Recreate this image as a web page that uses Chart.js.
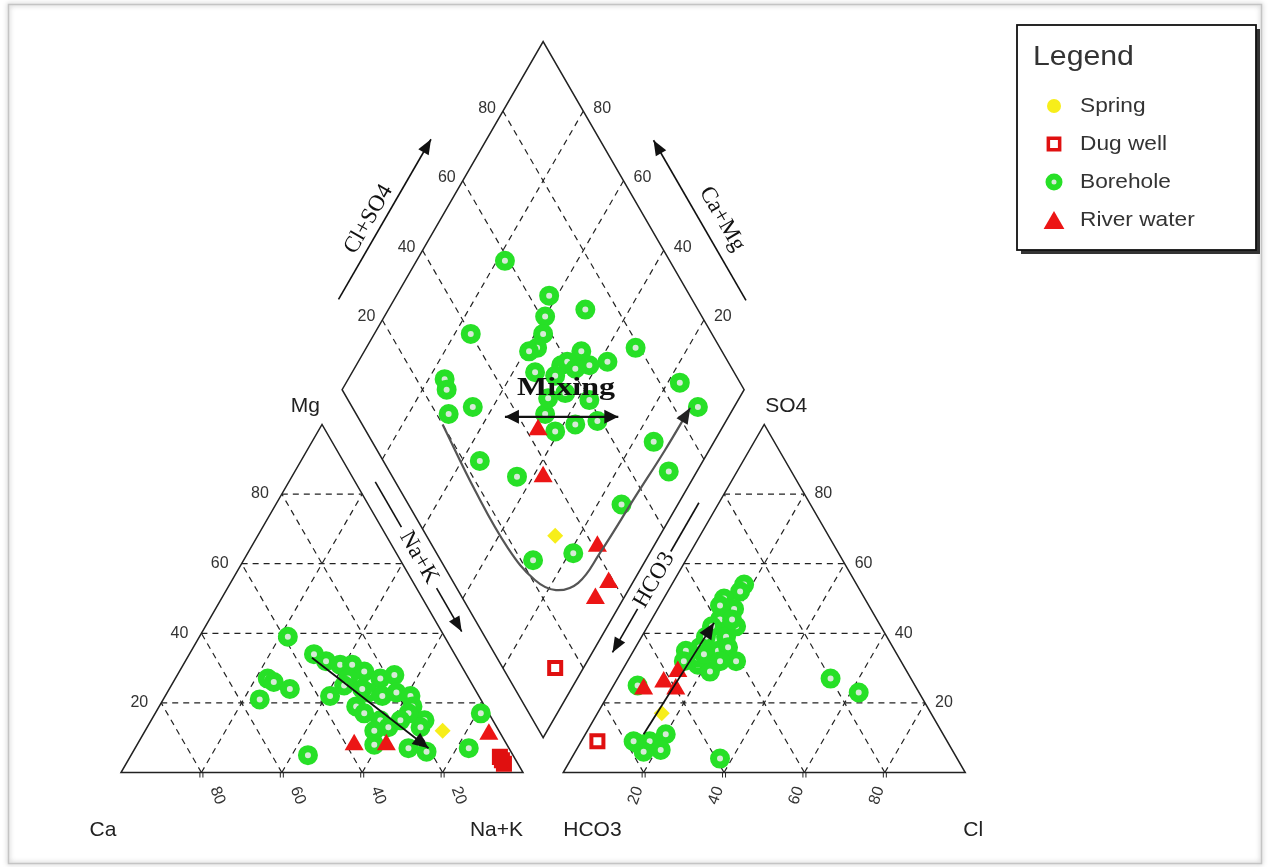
<!DOCTYPE html>
<html>
<head>
<meta charset="utf-8">
<title>Piper diagram</title>
<script src="https://cdn.jsdelivr.net/npm/chart.js@4.4.1/dist/chart.umd.min.js"></script>
<style>
  html, body { margin: 0; padding: 0; background: #fff; }
  #wrap { width: 1276px; height: 867px; }
</style>
</head>
<body>
<div id="wrap"><canvas id="piperChart" width="1276" height="867"></canvas></div>
<script>
// cation triangle values: [Mg %, Na+K %]  (Ca is the rest)
const boreholeCations = [
  [39, 22], [27, 23], [26, 25], [21, 24], [24, 30], [5, 44], [22, 41], [32, 35], [31, 39], [31, 42],
  [29, 46], [27, 51], [28, 54], [27, 43], [19, 49], [23, 50], [22, 54], [23, 57], [22, 61], [19, 63],
  [15, 68], [13, 68], [15, 57], [13, 60], [12, 57], [17, 63], [15, 62], [34, 31], [25, 43], [24, 48],
  [17, 52], [8, 59], [7, 68], [6, 73], [7, 83], [17, 81]
];
const riverCations = [[8, 54], [8, 62], [11, 86]];
const dugWellCations = [[4.5, 92], [3.5, 93], [2.5, 94]];
const springCations = [[12, 74]];

// anion triangle values: [SO4 %, Cl %]  (HCO3 is the rest)
const boreholeAnions = [
  [25, 6], [8.5, 14], [9, 17], [11, 20], [6.5, 21], [6, 17], [9, 13], [4, 37], [27, 53], [23, 62],
  [54, 18], [52, 18], [50, 15], [47, 19], [44, 17], [42, 16], [39, 16], [39, 21], [42, 22], [36, 16],
  [35, 21], [36, 23], [35, 13], [32, 14], [31, 18], [29, 22], [32, 27], [33, 17], [48, 15], [44, 20],
  [34, 18], [32, 23]
];
const riverAnions = [[24, 8], [26, 12], [24, 16], [29, 14]];
const dugWellAnions = [[9, 4]];
const springAnions = [[17, 16]];

// diamond values: [Ca+Mg %, Cl+SO4 %]
const boreholeDiamond = [
  [78, 59], [62, 65], [60, 61], [51, 72], [76, 40], [58, 58], [57.5, 54.5], [59, 52], [46, 65], [38, 70],
  [33, 79], [49, 58], [48, 60], [42, 65], [54.5, 50.5], [76, 27], [74, 26], [17, 85], [65, 30], [70, 23],
  [46, 47], [37, 53], [32, 59], [41, 47], [9, 86], [15, 70], [55.5, 24], [44, 31], [7, 69.5], [14, 53],
  [19, 34], [28, 23], [44, 55], [37, 60], [47.5, 50], [45, 61], [49, 55]
];
const riverDiamond = [[45.5, 43], [37.5, 37.5], [14, 41], [6, 38.6], [7, 33]];
const dugWellDiamond = [[7, 13]];
const springDiamond = [[26, 32]];

// mixing path in the diamond and trend arrows
const mixingCurve = [[70, 20], [52.5, 18.6], [36, 18.5], [24.7, 20.6], [18, 24.4], [13.5, 31], [12.4, 40.7], [11.7, 57.4], [11, 71.6], [10.8, 84]];
const mixingArrow = [[55.6, 36.6], [27.4, 64.8]];
const mixingLabelAt = [44.5, 55.9];
const cationTrend = [[33, 31], [7, 73]];
const anionTrend = [[11, 14.5], [43, 16]];

const gridSteps = [20, 40, 60, 80];
const tickLabels = ["20", "40", "60", "80"];
const legendLabels = ["Spring", "Dug well", "Borehole", "River water"];

const H = Math.sqrt(3) / 2;
const GAP = 10;
const SANS = '"Liberation Sans", Arial, sans-serif';
const SERIF = '"Liberation Serif", "Times New Roman", serif';

function cationXY(mg, nak) { return { x: nak + mg / 2, y: mg * H }; }
function anionXY(so4, cl) { return { x: 100 + GAP + cl + so4 / 2, y: so4 * H }; }
function diamondXY(camg, clso4) {
  return { x: 100 + GAP / 2 + (clso4 - camg) / 2, y: GAP * H + (camg + clso4) * H };
}

const boreholePts = [
  ...boreholeCations.map(p => cationXY(p[0], p[1])),
  ...boreholeAnions.map(p => anionXY(p[0], p[1])),
  ...boreholeDiamond.map(p => diamondXY(p[0], p[1]))
];
const riverPts = [
  ...riverCations.map(p => cationXY(p[0], p[1])),
  ...riverAnions.map(p => anionXY(p[0], p[1])),
  ...riverDiamond.map(p => diamondXY(p[0], p[1]))
];
const dugWellPts = [
  ...dugWellCations.map(p => cationXY(p[0], p[1])),
  ...dugWellAnions.map(p => anionXY(p[0], p[1])),
  ...dugWellDiamond.map(p => diamondXY(p[0], p[1]))
];
const springPts = [
  ...springCations.map(p => cationXY(p[0], p[1])),
  ...springAnions.map(p => anionXY(p[0], p[1])),
  ...springDiamond.map(p => diamondXY(p[0], p[1]))
];
const curvePts = mixingCurve.map(p => diamondXY(p[0], p[1]));

function along(p0, dir, nrm, t, off) {
  return { x: p0.x + dir.x * t + nrm.x * off, y: p0.y + dir.y * t + nrm.y * off };
}

function drawText(ctx, str, x, y, font, opts = {}) {
  ctx.save();
  ctx.font = font;
  ctx.fillStyle = opts.color || "#222";
  ctx.textAlign = opts.align || "center";
  ctx.textBaseline = "middle";
  ctx.translate(x, y);
  if (opts.rotate) ctx.rotate(opts.rotate);
  if (opts.sx) ctx.scale(opts.sx, 1);
  ctx.fillText(str, 0, 0);
  ctx.restore();
}

function line(ctx, a, b) {
  ctx.beginPath();
  ctx.moveTo(a[0], a[1]);
  ctx.lineTo(b[0], b[1]);
  ctx.stroke();
}

function head(ctx, from, to, len, half) {
  const ang = Math.atan2(to[1] - from[1], to[0] - from[0]);
  const c = Math.cos(ang), s = Math.sin(ang);
  ctx.beginPath();
  ctx.moveTo(to[0], to[1]);
  ctx.lineTo(to[0] - len * c + half * s, to[1] - len * s - half * c);
  ctx.lineTo(to[0] - len * c - half * s, to[1] - len * s + half * c);
  ctx.closePath();
  ctx.fill();
}

const piperLayout = {
  id: "piperLayout",
  beforeDraw(chart) {
    const ctx = chart.ctx;
    ctx.save();
    ctx.fillStyle = "#fff";
    ctx.fillRect(0, 0, chart.width, chart.height);
    ctx.shadowColor = "rgba(0,0,0,0.35)";
    ctx.shadowBlur = 5;
    ctx.strokeStyle = "#c4c4c4";
    ctx.lineWidth = 1.5;
    ctx.strokeRect(8.5, 4.5, 1253, 859);
    ctx.restore();
  },
  beforeDatasetsDraw(chart) {
    const { ctx, scales: { x, y } } = chart;
    const P = p => [x.getPixelForValue(p.x), y.getPixelForValue(p.y)];
    ctx.save();

    // dashed grid
    ctx.strokeStyle = "#222";
    ctx.lineWidth = 1.2;
    ctx.setLineDash([6, 5]);
    gridSteps.forEach(v => {
      line(ctx, P(cationXY(v, 0)), P(cationXY(v, 100 - v)));
      line(ctx, P(cationXY(0, v)), P(cationXY(100 - v, v)));
      line(ctx, P(cationXY(0, 100 - v)), P(cationXY(100 - v, 0)));
      line(ctx, P(anionXY(v, 0)), P(anionXY(v, 100 - v)));
      line(ctx, P(anionXY(0, v)), P(anionXY(100 - v, v)));
      line(ctx, P(anionXY(0, 100 - v)), P(anionXY(100 - v, 0)));
      line(ctx, P(diamondXY(v, 0)), P(diamondXY(v, 100)));
      line(ctx, P(diamondXY(0, v)), P(diamondXY(100, v)));
    });
    ctx.setLineDash([]);

    // outlines
    ctx.lineWidth = 1.5;
    const outline = pts => {
      ctx.beginPath();
      pts.forEach((p, i) => { const q = P(p); i ? ctx.lineTo(q[0], q[1]) : ctx.moveTo(q[0], q[1]); });
      ctx.closePath();
      ctx.stroke();
    };
    outline([cationXY(0, 0), cationXY(0, 100), cationXY(100, 0)]);
    outline([anionXY(0, 0), anionXY(0, 100), anionXY(100, 0)]);
    outline([diamondXY(0, 0), diamondXY(100, 0), diamondXY(100, 100), diamondXY(0, 100)]);

    // base tick marks
    ctx.lineWidth = 1;
    gridSteps.forEach(v => {
      [P(cationXY(0, v)), P(anionXY(0, v))].forEach(q => {
        line(ctx, [q[0] - 1.5, q[1]], [q[0] - 1.5, q[1] + 5]);
        line(ctx, [q[0] + 1.5, q[1]], [q[0] + 1.5, q[1] + 5]);
      });
    });

    // tick labels
    const tf = "16px " + SANS;
    gridSteps.forEach((v, i) => {
      const t = tickLabels[i];
      let q = P(cationXY(v, 0));
      drawText(ctx, t, q[0] - 13, q[1], tf, { align: "right", color: "#333" });
      q = P(cationXY(0, 100 - v));
      drawText(ctx, t, q[0] + 16, q[1] + 23, tf, { rotate: 1.22, color: "#333" });
      q = P(anionXY(v, 100 - v));
      drawText(ctx, t, q[0] + 10, q[1], tf, { align: "left", color: "#333" });
      q = P(anionXY(0, v));
      drawText(ctx, t, q[0] - 8, q[1] + 23, tf, { rotate: -1.22, color: "#333" });
      q = P(diamondXY(100, v));
      drawText(ctx, t, q[0] - 7, q[1] - 3, tf, { align: "right", color: "#333" });
      q = P(diamondXY(v, 100));
      drawText(ctx, t, q[0] + 10, q[1] - 3, tf, { align: "left", color: "#333" });
    });

    // corner labels
    const cf = "21px " + SANS;
    let q = P(cationXY(100, 0));
    drawText(ctx, "Mg", q[0] - 2, q[1] - 18, cf, { align: "right" });
    q = P(anionXY(100, 0));
    drawText(ctx, "SO4", q[0] + 1, q[1] - 18, cf, { align: "left" });
    q = P(cationXY(0, 0));
    drawText(ctx, "Ca", q[0] - 18, q[1] + 58, cf);
    q = P(cationXY(0, 100));
    drawText(ctx, "Na+K", q[0], q[1] + 58, cf, { align: "right" });
    q = P(anionXY(0, 0));
    drawText(ctx, "HCO3", q[0], q[1] + 58, cf, { align: "left" });
    q = P(anionXY(0, 100));
    drawText(ctx, "Cl", q[0] - 2, q[1] + 58, cf, { align: "left" });
    ctx.restore();
  },
  afterDatasetsDraw(chart) {
    const { ctx, scales: { x, y } } = chart;
    const P = p => [x.getPixelForValue(p.x), y.getPixelForValue(p.y)];
    ctx.save();
    ctx.strokeStyle = "#111";
    ctx.fillStyle = "#111";
    const sf = "23px " + SERIF;

    const up = { x: 0.5, y: H }, upL = { x: -0.5, y: H };
    const nL = { x: -H, y: 0.5 }, nR = { x: H, y: 0.5 };

    // Cl+SO4 along the upper left side of the diamond
    const L = diamondXY(100, 0), R = diamondXY(0, 100);
    ctx.lineWidth = 1.6;
    let a = P(along(L, up, nL, 19, 12)), b = P(along(L, up, nL, 65, 12));
    line(ctx, a, b); head(ctx, a, b, 15, 6);
    let t = P(along(L, up, nL, 40, 15.5));
    drawText(ctx, "Cl+SO4", t[0], t[1], sf, { rotate: -Math.PI / 3, color: "#111" });

    a = P(along(R, upL, nR, 19, 11.5)); b = P(along(R, upL, nR, 65, 11.5));
    line(ctx, a, b); head(ctx, a, b, 15, 6);
    t = P(along(R, upL, nR, 39.5, 16.5));
    drawText(ctx, "Ca+Mg", t[0], t[1], sf, { rotate: Math.PI / 3, color: "#111" });

    // Na+K between the cation triangle and the diamond
    const nk = cationXY(0, 100);
    line(ctx, P(along(nk, upL, nR, 81, 4.33)), P(along(nk, upL, nR, 68, 4.33)));
    t = P(along(nk, upL, nR, 59.3, 4.33));
    drawText(ctx, "Na+K", t[0], t[1], sf, { rotate: Math.PI / 3, color: "#111" });
    a = P(along(nk, upL, nR, 50.5, 4.33)); b = P(along(nk, upL, nR, 38, 4.33));
    line(ctx, a, b); head(ctx, a, b, 15, 6);

    // HCO3 between the diamond and the anion triangle
    const hc = anionXY(0, 0);
    line(ctx, P(along(hc, up, nL, 75, 4.33)), P(along(hc, up, nL, 61, 4.33)));
    t = P(along(hc, up, nL, 52.8, 4.33));
    drawText(ctx, "HCO3", t[0], t[1], sf, { rotate: -Math.PI / 3, color: "#111" });
    a = P(along(hc, up, nL, 44.5, 4.33)); b = P(along(hc, up, nL, 32, 4.33));
    line(ctx, a, b); head(ctx, a, b, 15, 6);

    // trend arrows in the triangles
    ctx.lineWidth = 1.8;
    a = P(cationXY(cationTrend[0][0], cationTrend[0][1]));
    b = P(cationXY(cationTrend[1][0], cationTrend[1][1]));
    line(ctx, a, b); head(ctx, a, b, 16, 7);
    a = P(anionXY(anionTrend[0][0], anionTrend[0][1]));
    b = P(anionXY(anionTrend[1][0], anionTrend[1][1]));
    line(ctx, a, b); head(ctx, a, b, 16, 7);

    // mixing double arrow and label
    ctx.lineWidth = 2.2;
    a = P(diamondXY(mixingArrow[0][0], mixingArrow[0][1]));
    b = P(diamondXY(mixingArrow[1][0], mixingArrow[1][1]));
    line(ctx, a, b); head(ctx, a, b, 14, 7); head(ctx, b, a, 14, 7);
    t = P(diamondXY(mixingLabelAt[0], mixingLabelAt[1]));
    ctx.font = "bold 25px " + SERIF;
    const mw = ctx.measureText("Mixing").width;
    drawText(ctx, "Mixing", t[0], t[1], "bold 25px " + SERIF, { sx: 98 / mw, color: "#111" });

    // arrow head of the mixing path
    const n = curvePts.length;
    ctx.fillStyle = "#222";
    head(ctx, P(curvePts[n - 2]), P(curvePts[n - 1]), 16, 6.5);

    // legend box
    ctx.fillStyle = "#333";
    ctx.fillRect(1021, 29, 239, 225);
    ctx.fillStyle = "#fff";
    ctx.fillRect(1017, 25, 239, 225);
    ctx.strokeStyle = "#111";
    ctx.lineWidth = 1.8;
    ctx.strokeRect(1017, 25, 239, 225);
    drawText(ctx, "Legend", 1033, 58, "27px " + SANS, { align: "left", sx: 1.12, color: "#333" });
    const rows = [106, 144, 182, 220];
    const marks = [
      { style: "circle", r: 7, fill: "#f7ee1a", stroke: "#f7ee1a", bw: 0 },
      { style: "rect", r: 8, fill: "#fff", stroke: "#e01010", bw: 3.5 },
      { style: "circle", r: 5.5, fill: "#d6ead6", stroke: "#27e027", bw: 6 },
      { style: "triangle", r: 12, fill: "#ec1515", stroke: "#ec1515", bw: 0 }
    ];
    legendLabels.forEach((lab, i) => {
      const m = marks[i];
      ctx.fillStyle = m.fill;
      ctx.strokeStyle = m.stroke;
      ctx.lineWidth = m.bw;
      Chart.helpers.drawPoint(ctx, { pointStyle: m.style, radius: m.r, rotation: 0, borderWidth: m.bw }, 1054, rows[i] + (m.style === "triangle" ? 3 : 0));
      drawText(ctx, lab, 1080, rows[i], "21px " + SANS, { align: "left", sx: 1.08, color: "#333" });
    });
    ctx.restore();
  }
};

const ctx = document.getElementById("piperChart").getContext("2d");
const piperChart = new Chart(ctx, {
  type: "scatter",
  data: {
    datasets: [
      {
        label: "Mixing path",
        data: curvePts,
        showLine: true,
        borderColor: "#555",
        borderWidth: 2.2,
        tension: 0.4,
        pointRadius: 0,
        order: 0,
      },
      {
        label: legendLabels[1],
        data: dugWellPts,
        pointStyle: "rect",
        pointRadius: 8.5,
        pointBorderWidth: 4,
        pointBorderColor: "#e01010",
        // the overlapping wells in the cation corner read as one solid blob
        pointBackgroundColor: c => (c.dataIndex < dugWellCations.length ? "#e01010" : "#fff"),
        order: 1,
      },
      {
        label: legendLabels[3],
        data: riverPts,
        pointStyle: "triangle",
        pointRadius: 11,
        pointBorderWidth: 0,
        pointBorderColor: "#ec1515",
        pointBackgroundColor: "#ec1515",
        order: 2,
      },
      {
        label: legendLabels[0],
        data: springPts,
        pointStyle: "rectRot",
        pointRadius: 8,
        pointBorderWidth: 0,
        pointBorderColor: "#f7ee1a",
        pointBackgroundColor: "#f7ee1a",
        order: 3,
      },
      {
        label: legendLabels[2],
        data: boreholePts,
        pointStyle: "circle",
        pointRadius: 6.5,
        pointBorderWidth: 7,
        pointBorderColor: "#27e027",
        pointBackgroundColor: "#d6ead6",
        order: 4,
      },
    ],
  },
  options: {
    responsive: false,
    animation: false,
    layout: { padding: 0, autoPadding: false },
    plugins: {
      legend: { display: false },
      tooltip: { enabled: false },
    },
    scales: {
      x: { type: "linear", min: -30.1, max: 287.3, display: false },
      y: { type: "linear", min: -23.5, max: 192.2, display: false },
    },
  },
  plugins: [piperLayout],
});
</script>
</body>
</html>
